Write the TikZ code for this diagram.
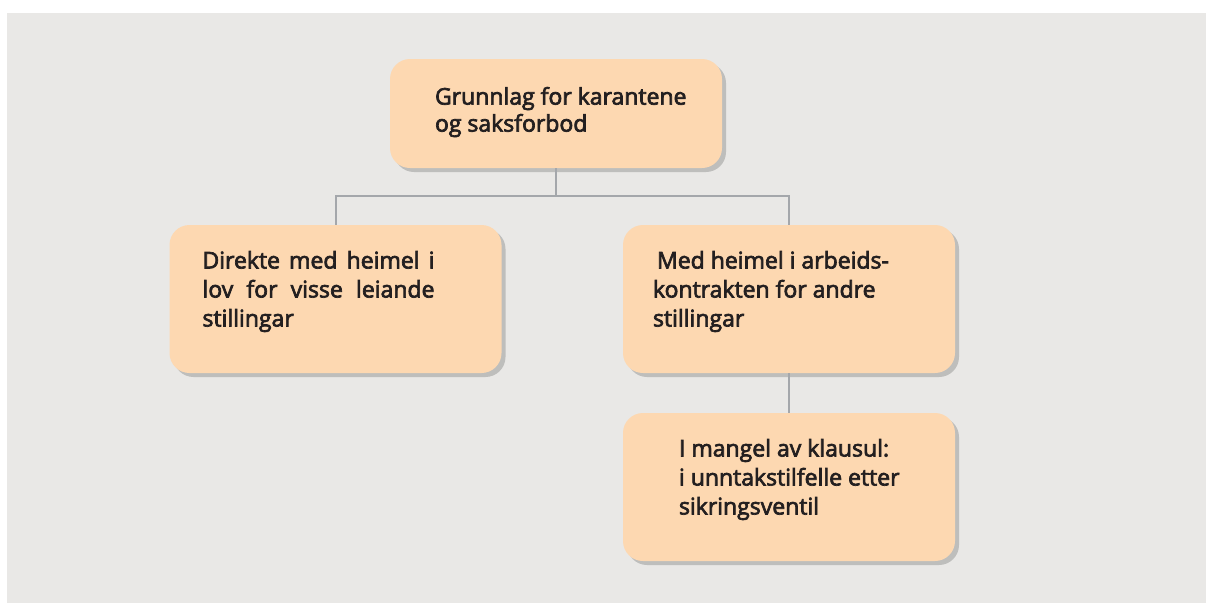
\documentclass[tikz,border=0pt]{standalone}
\usepackage{fontspec}
\setmainfont{Open Sans}[FakeBold=3]
\usetikzlibrary{positioning, shadows}
\definecolor{peach}{HTML}{FDD8B1}
\definecolor{bggray}{HTML}{E9E8E6}
\definecolor{linegray}{HTML}{A4A7AB}
\definecolor{inkgray}{HTML}{231F20}
\tikzset{
    box/.style={draw=none, fill=peach, rounded corners=20pt, minimum width=332pt,
        drop shadow={shadow xshift=4pt, shadow yshift=-4pt, fill=black, opacity=.18}},
    boxtext/.style={anchor=north west, inner sep=0pt, text=inkgray, font=\fontsize{23}{29}\selectfont},
    link/.style={draw=linegray, line width=2pt}
}

\begin{document}
\begin{tikzpicture}[x=1pt,y=-1pt]
    \useasboundingbox (0,0) rectangle (1206,603);
    \fill[bggray] (7,13) rectangle (1206,603);

    \node[box, minimum height=109pt] (grunnlag) at (556,113.5) {};
    \node[box, minimum height=148pt] (lov) at (335.5,299) {};
    \node[box, minimum height=148pt] (kontrakt) at (789,299) {};
    \node[box, minimum height=148pt] (klausul) at (789,487) {};

    \node[boxtext, align=left, font=\fontsize{23}{27}\selectfont]
        (grunnlagtext) at ([xshift=45pt, yshift=-28pt]grunnlag.north west)
        {Grunnlag for karantene\\og saksforbod};
    \node[boxtext, align=left, text width=232pt]
        (lovtext) at ([xshift=33pt, yshift=-26pt]lov.north west)
        {Direkte\hfill med\hfill heimel\hfill i\\lov\hfill for\hfill visse\hfill leiande\\stillingar};
    \node[boxtext, align=left]
        (kontrakttext) at ([xshift=30pt, yshift=-26pt]kontrakt.north west)
        {\hspace{4pt}Med heimel i arbeids-\\kontrakten for andre\\stillingar};
    \node[boxtext, align=left]
        (klausultext) at ([xshift=56pt, yshift=-26pt]klausul.north west)
        {I mangel av klausul:\\i unntakstilfelle etter\\sikringsventil};

    \coordinate (split) at (556,196);
    \path[link] (grunnlag.south) -- (split);
    \path[link] (lov.north) |- (split) -| (kontrakt.north);
    \path[link] (kontrakt.south) -- (klausul.north);
\end{tikzpicture}
\end{document}
